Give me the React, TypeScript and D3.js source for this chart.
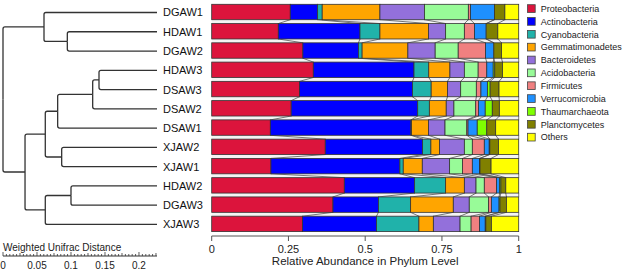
import React from "react";
import * as d3 from "d3";

const samples = ["DGAW1","HDAW1","DGAW2","HDAW3","DSAW3","DSAW2","DSAW1","XJAW2","XJAW1","HDAW2","DGAW3","XJAW3"];
const phyla = ["Proteobacteria","Actinobacteria","Cyanobacteria","Gemmatimonadetes","Bacteroidetes","Acidobacteria","Firmicutes","Verrucomicrobia","Thaumarchaeota","Planctomycetes","Others"];
const colors = ["#DC143C","#0000FF","#20B2AA","#FFA500","#9370DB","#98FB98","#F08080","#1E90FF","#7FFF00","#808000","#FFFF00"];

// abundance per sample, in phyla order
const DGAW1 = [0.256,0.089,0.015,0.188,0.145,0.143,0.007,0.078,0,0.034,0.045];
const HDAW1 = [0.217,0.266,0.065,0.158,0.056,0.061,0.033,0.038,0,0.038,0.068];
const DGAW2 = [0.297,0.181,0.012,0.149,0.089,0.075,0.089,0.027,0,0.025,0.056];
const HDAW3 = [0.331,0.328,0.048,0.069,0.047,0.045,0.028,0.021,0.005,0.025,0.053];
const DSAW3 = [0.286,0.368,0.061,0.053,0.043,0.051,0.015,0.021,0.009,0.029,0.064];
const DSAW2 = [0.259,0.412,0.038,0.055,0.025,0.071,0.009,0.022,0.023,0.023,0.063];
const DSAW1 = [0.191,0.458,0.002,0.055,0.054,0.071,0.004,0.030,0.031,0.029,0.075];
const XJAW2 = [0.370,0.317,0.027,0.028,0.081,0.026,0.039,0.016,0.002,0.028,0.066];
const XJAW1 = [0.193,0.420,0.011,0.062,0.089,0.042,0.032,0.023,0.002,0.036,0.090];
const HDAW2 = [0.432,0.229,0.101,0.061,0.038,0.027,0.040,0.010,0.004,0.016,0.042];
const DGAW3 = [0.395,0.148,0.105,0.139,0.052,0.063,0.009,0.025,0.003,0.021,0.040];
const XJAW3 = [0.296,0.241,0.138,0.047,0.087,0.036,0.027,0.019,0.002,0.018,0.089];
const abundance: Record<string, number[]> = { DGAW1, HDAW1, DGAW2, HDAW3, DSAW3, DSAW2, DSAW1, XJAW2, XJAW1, HDAW2, DGAW3, XJAW3 };

const barTicks = [0, 0.25, 0.5, 0.75, 1];
const barTickLabels = ["0", "0.25", "0.5", "0.75", "1"];
const distTicks = [0, 0.05, 0.1, 0.15, 0.2];
const distTickLabels = ["0", "0.05", "0.1", "0.15", "0.2"];
const distMax = 0.2265;

// dendrogram: node distance from root (leaves at distMax)
type TNode = { d?: number; name?: string; children?: TNode[] };
const tree: TNode = {
  d: 0,
  children: [
    { d: 0.0603, children: [{ name: "DGAW1" }, { d: 0.0946, children: [{ name: "HDAW1" }, { name: "DGAW2" }] }] },
    {
      d: 0.0324,
      children: [
        {
          d: 0.0622,
          children: [
            {
              d: 0.0804,
              children: [
                { d: 0.1319, children: [{ d: 0.1412, children: [{ name: "HDAW3" }, { name: "DSAW3" }] }, { name: "DSAW2" }] },
                { name: "DSAW1" },
              ],
            },
            { d: 0.0863, children: [{ name: "XJAW2" }, { name: "XJAW1" }] },
          ],
        },
        { d: 0.0622, children: [{ d: 0.1, children: [{ name: "HDAW2" }, { name: "DGAW3" }] }, { name: "XJAW3" }] },
      ],
    },
  ],
};

const FONT = "'Liberation Sans', Arial, sans-serif";

export default function App() {
  const W = 625, H = 275;
  const x = d3.scaleLinear().domain([0, 1]).range([211.7, 518.7]);
  const y = d3.scaleBand<string>().domain(samples).range([4.3, 231.6]).paddingInner(0.2).paddingOuter(0);
  const bw = y.bandwidth();
  const dx = d3.scaleLinear().domain([0, distMax]).range([3, 157]);

  const rows = samples.map((s) => {
    const vals = abundance[s];
    let acc = 0;
    const segs = vals.map((v, i) => {
      const s0 = acc;
      acc += v;
      return { i, x0: s0, x1: acc };
    });
    const total = acc;
    return { s, segs: segs.map((g) => ({ ...g, x0: g.x0 / total, x1: g.x1 / total })) };
  });

  // tree layout
  const root = d3.hierarchy<TNode>(tree);
  root.eachAfter((n: any) => {
    if (!n.children) {
      n.ty = (y(n.data.name) as number) + bw / 2 + 0.5;
      n.tx = dx(distMax);
    } else {
      n.ty = (n.children[0].ty + n.children[n.children.length - 1].ty) / 2;
      n.tx = dx(n.data.d);
    }
  });
  const r = 2;
  const treePaths: string[] = [];
  root.each((n: any) => {
    if (!n.children) return;
    n.children.forEach((c: any) => {
      const dir = c.ty < n.ty ? -1 : 1;
      const p = d3.path();
      p.moveTo(n.tx, n.ty);
      p.lineTo(n.tx, c.ty - dir * r);
      p.quadraticCurveTo(n.tx, c.ty, n.tx + r, c.ty);
      p.lineTo(c.tx, c.ty);
      treePaths.push(p.toString());
    });
  });

  const minorTicks = d3.range(0, 0.2251, 0.005);

  return (
    <svg width={W} height={H} style={{ position: "absolute", left: 0, top: 0, background: "#fff" }} fontFamily={FONT}>
      {/* gaps with connectors */}
      {rows.slice(0, -1).map((row, k) => {
        const next = rows[k + 1];
        const yTop = (y(row.s) as number) + bw;
        const yBot = y(next.s) as number;
        return (
          <g key={"gap" + k}>
            <rect x={x(0)} y={yTop} width={x(1) - x(0)} height={yBot - yTop} fill="#f4f4f4" />
            {row.segs.map((g, i) => (
              <line key={i} x1={x(g.x1)} y1={yTop} x2={x(next.segs[i].x1)} y2={yBot} stroke="#555" strokeWidth={0.8} />
            ))}
          </g>
        );
      })}
      {/* bars */}
      {rows.map((row) => (
        <g key={row.s}>
          {row.segs.map((g) =>
            g.x1 - g.x0 > 0 ? (
              <rect key={g.i} x={x(g.x0)} y={y(row.s)} width={x(g.x1) - x(g.x0)} height={bw} fill={colors[g.i]} stroke="#333" strokeWidth={0.8} />
            ) : null
          )}
        </g>
      ))}
      {/* x axis */}
      <g>
        <line x1={x(0)} x2={x(1)} y1={236} y2={236} stroke="#555" strokeWidth={1} />
        {barTicks.map((t, i) => (
          <g key={i}>
            <line x1={x(t)} x2={x(t)} y1={236} y2={241} stroke="#555" strokeWidth={1} />
            <text x={x(t)} y={253} fontSize={11} textAnchor="middle" fill="#222">{barTickLabels[i]}</text>
          </g>
        ))}
        <text x={(x(0) + x(1)) / 2} y={265} fontSize={11.5} textAnchor="middle" fill="#222">Relative Abundance in Phylum Level</text>
      </g>
      {/* dendrogram */}
      {treePaths.map((d, i) => (
        <path key={i} d={d} fill="none" stroke="#333" strokeWidth={1.3} />
      ))}
      {samples.map((s) => (
        <text key={s} x={163} y={(y(s) as number) + bw / 2 + 0.5} dy="0.36em" fontSize={11} fill="#111">{s}</text>
      ))}
      {/* distance scale */}
      <text x={3} y={250.5} fontSize={10} fill="#222">Weighted Unifrac Distance</text>
      <line x1={dx(0)} x2={dx(distMax)} y1={256} y2={256} stroke="#333" strokeWidth={1} />
      {minorTicks.map((t, i) => {
        const major = i % 10 === 0;
        const mid = i % 5 === 0;
        const h = major ? 4 : mid ? 3 : 2;
        return <line key={i} x1={dx(t)} x2={dx(t)} y1={256} y2={256 - h} stroke="#333" strokeWidth={0.8} />;
      })}
      {distTicks.map((t, i) => (
        <text key={i} x={dx(t)} y={269} fontSize={10} textAnchor="middle" fill="#222">{distTickLabels[i]}</text>
      ))}
      {/* legend */}
      {phyla.map((p, i) => (
        <g key={p} transform={`translate(527.5, ${4.7 + i * 12.86})`}>
          <rect x={0} y={0} width={7.7} height={7.7} fill={colors[i]} stroke="#444" strokeWidth={0.8} />
          <text x={13.2} y={4} dy="0.35em" fontSize={9} fill="#222">{p}</text>
        </g>
      ))}
    </svg>
  );
}
